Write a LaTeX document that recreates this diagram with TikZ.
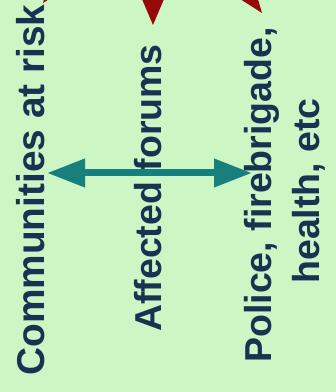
\documentclass[tikz,border=0pt]{standalone}
\usepackage{fontspec}
\setmainfont{Liberation Sans}
\usetikzlibrary{arrows.meta}
\definecolor{bg}{RGB}{204,246,196}
\definecolor{txt}{RGB}{22,52,82}
\definecolor{tealarrow}{RGB}{24,128,124}
\definecolor{dred}{RGB}{150,8,10}
\begin{document}
\begin{tikzpicture}[x=1pt,y=1pt,
  lbl/.style={rotate=90, anchor=base, inner sep=0pt, text=txt,
    font=\fontsize{37.5}{45}\selectfont\bfseries},
  link/.style={draw=tealarrow, line width=7pt,
    {Triangle[length=38pt,width=27pt]}-{Triangle[length=38pt,width=27pt]}},
  tiphead/.style={fill=dred}]
\fill[bg] (0,0) rectangle (336,392);
\useasboundingbox (0,0) rectangle (336,392);
\clip (0,0) rectangle (336,392);
% labels
\node[lbl, font=\fontsize{38.8}{45}\selectfont\bfseries] (comm) at (45,202) {Communities at risk};
\node[lbl] (aff) at (162,204) {Affected forums};
\node[lbl] (police) at (271,197) {Police, firebrigade,};
\node[lbl] (health) at (319,201) {health, etc};
% teal double arrow
\coordinate (L) at (47,219);
\coordinate (R) at (252,219);
\draw[link] (L) -- (R);
% dark red arrowheads coming from above (cropped)
\fill[tiphead] (43,389) -- (79,412) -- (55,430) -- cycle;
\fill[tiphead] (153,367) -- (136,407) -- (170,407) -- cycle;
\fill[tiphead] (262,379) -- (226,402) -- (250,420) -- cycle;
\end{tikzpicture}
\end{document}
